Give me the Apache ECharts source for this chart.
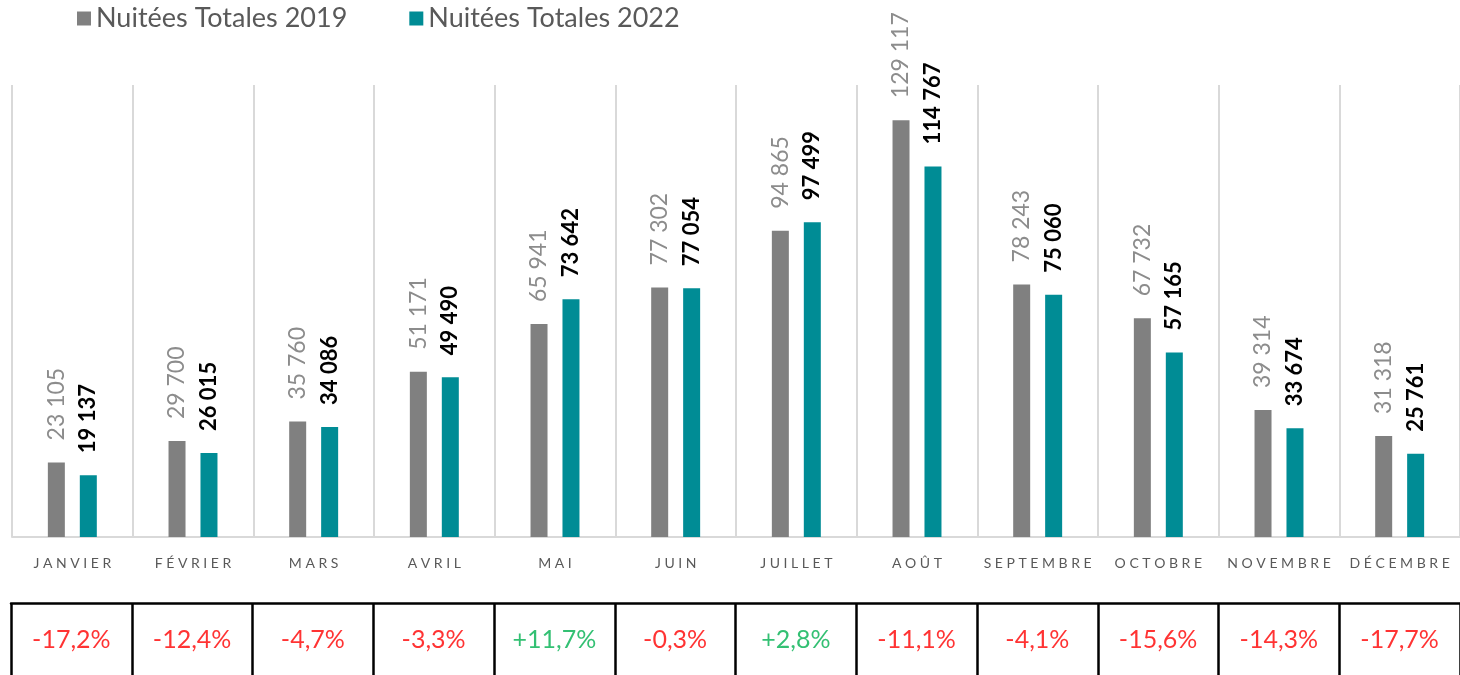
<!DOCTYPE html>
<html>
<head>
<meta charset="utf-8">
<script src="https://cdn.jsdelivr.net/npm/echarts@6/dist/echarts.min.js"></script>
<style>
  html, body { margin: 0; padding: 0; background: #fff; }
  #main { width: 1460px; height: 675px; }
</style>
</head>
<body>
<div id="main"></div>
<script>
// données
const mois = ["JANVIER", "FÉVRIER", "MARS", "AVRIL", "MAI", "JUIN", "JUILLET", "AOÛT", "SEPTEMBRE", "OCTOBRE", "NOVEMBRE", "DÉCEMBRE"];
const nuitees2019 = [23105, 29700, 35760, 51171, 65941, 77302, 94865, 129117, 78243, 67732, 39314, 31318];
const nuitees2022 = [19137, 26015, 34086, 49490, 73642, 77054, 97499, 114767, 75060, 57165, 33674, 25761];
const evolution = [-17.2, -12.4, -4.7, -3.3, 11.7, -0.3, 2.8, -11.1, -4.1, -15.6, -14.3, -17.7];

const fmtNombre = (v) => String(v).replace(/\B(?=(\d{3})+(?!\d))/g, " ");
const fmtPct = (v) => (v > 0 ? "+" : "") + v.toFixed(1).replace(".", ",") + "%";
const espacer = (s) => s.split("").join(" ");

var myChart = echarts.init(document.getElementById("main"));

myChart.setOption({
    animation: false,
    textStyle: { fontFamily: "Lato" },
    legend: {
        left: 72,
        top: 0,
        itemGap: 62,
        itemWidth: 14,
        itemHeight: 14,
        icon: "rect",
        textStyle: { fontSize: 27, color: "#595959", fontFamily: "Lato" },
        data: ["Nuitées Totales 2019", "Nuitées Totales 2022"]
    },
    grid: [
        { left: 12, top: 85, width: 1453, height: 452 },
        { left: 11, top: 603, width: 1453, height: 72 }
    ],
    xAxis: [
        {
            type: "category",
            gridIndex: 0,
            data: mois,
            axisLine: { lineStyle: { color: "#d9d9d9", width: 2 } },
            axisTick: { show: false },
            splitLine: { show: true, interval: 0, lineStyle: { color: "#d9d9d9", width: 2 } },
            axisLabel: {
                interval: 0,
                margin: 19,
                fontSize: 14,
                color: "#595959",
                formatter: espacer
            }
        },
        {
            type: "category",
            gridIndex: 1,
            position: "top",
            data: mois,
            axisLine: { onZero: false, lineStyle: { color: "#000", width: 2.5 } },
            axisTick: { show: false },
            axisLabel: { show: false },
            splitLine: { show: true, interval: 0, lineStyle: { color: "#000", width: 2.5 } }
        }
    ],
    yAxis: [
        { type: "value", gridIndex: 0, min: 0, max: 140000, show: false, splitLine: { show: false } },
        { type: "value", gridIndex: 1, min: 0, max: 1, show: false, splitLine: { show: false } }
    ],
    series: [
        {
            name: "Nuitées Totales 2019",
            type: "bar",
            xAxisIndex: 0,
            yAxisIndex: 0,
            barWidth: 17,
            barGap: "88%",
            itemStyle: { color: "#808080" },
            label: {
                show: true,
                position: "top",
                rotate: 90,
                align: "left",
                verticalAlign: "middle",
                distance: 22,
                fontSize: 23,
                color: "#8c8c8c",
                formatter: (p) => fmtNombre(p.value)
            },
            data: nuitees2019
        },
        {
            name: "Nuitées Totales 2022",
            type: "bar",
            xAxisIndex: 0,
            yAxisIndex: 0,
            barWidth: 17,
            itemStyle: { color: "#008c95" },
            label: {
                show: true,
                position: "top",
                rotate: 90,
                align: "left",
                verticalAlign: "middle",
                distance: 22,
                fontSize: 22,
                fontWeight: "bold",
                color: "#000",
                formatter: (p) => fmtNombre(p.value)
            },
            data: nuitees2022
        },
        {
            name: "Évolution",
            type: "scatter",
            xAxisIndex: 1,
            yAxisIndex: 1,
            symbolSize: 0,
            silent: true,
            label: {
                show: true,
                position: "inside",
                fontSize: 25,
                formatter: (p) => fmtPct(evolution[p.dataIndex])
            },
            data: evolution.map((v, i) => ({
                value: [i, 0.49],
                label: { color: v > 0 ? "#00b050" : "#ff0000" }
            }))
        }
    ]
});
</script>
</body>
</html>
